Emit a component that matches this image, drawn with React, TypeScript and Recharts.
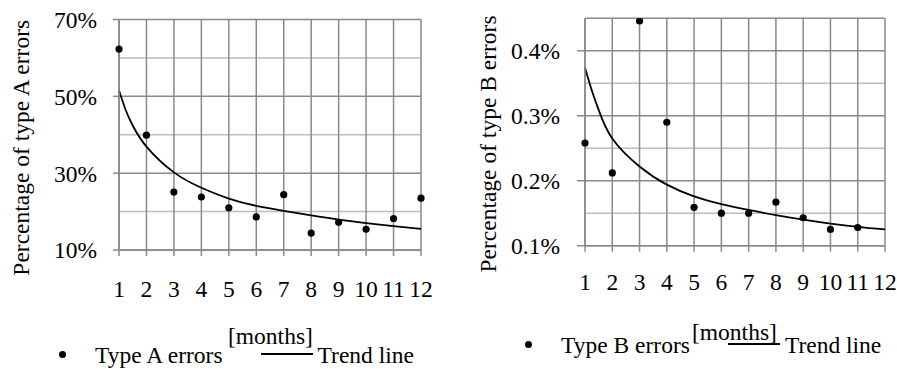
import React from 'react';
import { ComposedChart, Line, Scatter, XAxis, YAxis, CartesianGrid, Legend } from 'recharts';

const months = [1, 2, 3, 4, 5, 6, 7, 8, 9, 10, 11, 12];

// percentage of type A errors per month
const typeAErrors = [62.3, 39.9, 25.1, 23.8, 21.0, 18.6, 24.4, 14.4, 17.2, 15.4, 18.2, 23.5];
// trend curve (extra readings near 1 where it bends hard)
const trendMonths = [1, 1.25, 1.5, 2, 3, 4, 5, 6, 7, 8, 9, 10, 11, 12];
const typeATrend = [51.5, 46.3, 42.4, 36.9, 30.2, 26.2, 23.4, 21.5, 20.2, 19.0, 17.9, 17.0, 16.2, 15.5];

// type B: no point for month 12, the trend still runs to 12
const typeBErrors = [0.258, 0.212, 0.446, 0.29, 0.159, 0.15, 0.15, 0.167, 0.143, 0.125, 0.128];
const typeBTrend = [0.374, 0.339, 0.309, 0.265, 0.222, 0.194, 0.176, 0.164, 0.155, 0.147, 0.14, 0.134, 0.129, 0.125];

const ticksA = [10, 30, 50, 70];
const minorA = [20, 40, 60];
const ticksB = [0.1, 0.2, 0.3, 0.4];
const minorB = [0.15, 0.25, 0.35];

const font = '"Liberation Serif", serif';
const fs = 23.5;
const gridDark = '#898989';
const gridLight = '#bdbdbd';

const trendA = trendMonths.map((m, i) => ({ month: m, trend: typeATrend[i] }));
const pointsA = months.map((m, i) => ({ month: m, value: typeAErrors[i] }));
const trendB = trendMonths.map((m, i) => ({ month: m, trend: typeBTrend[i] }));
const pointsB = typeBErrors.map((v, i) => ({ month: months[i], value: v }));

const Dot = (props: any) => <circle cx={props.cx} cy={props.cy} r={3.6} fill="#000" />;

const YTitle = ({ viewBox, text, dx, dy }: any) => {
  const cx = viewBox.x + dx;
  const cy = viewBox.y + viewBox.height / 2 + dy;
  return (
    <text x={cx} y={cy} transform={`rotate(-90 ${cx} ${cy})`} textAnchor="middle"
      style={{ fontFamily: font }} fontSize={fs} fill="#000">{text}</text>
  );
};

const XTitle = ({ viewBox, dx, dy }: any) => (
  <text x={viewBox.x + dx} y={viewBox.y + dy} style={{ fontFamily: font }} fontSize={fs} fill="#000">[months]</text>
);

const LegendRow = ({ name }: { name: string }) => (
  <div style={{ display: 'flex', alignItems: 'center', fontFamily: font, fontSize: fs, lineHeight: '24px', color: '#000', whiteSpace: 'nowrap' }}>
    <span style={{ display: 'inline-block', width: 7, height: 7, borderRadius: '50%', background: '#000', position: 'relative', top: -1 }} />
    <span style={{ marginLeft: 29.5 }}>{name}</span>
    <span style={{ display: 'inline-block', width: 52, height: 2, background: '#000', marginLeft: 38, position: 'relative', top: -1 }} />
    <span style={{ marginLeft: 5 }}>Trend line</span>
  </div>
);

const tickStyle = { fill: '#000', fontSize: fs, style: { fontFamily: font } };

export default function App() {
  return (
    <div style={{ position: 'relative', width: 897, height: 369, background: '#fff', fontFamily: font }}>
      <style>{'body{margin:0} .recharts-text{font-family:"Liberation Serif",serif}'}</style>

      <div style={{ position: 'absolute', left: 0, top: 0 }}>
        <ComposedChart width={448} height={369} data={trendA} margin={{ top: 19.5, right: 27, left: 0, bottom: 0 }}>
          <CartesianGrid horizontalValues={minorA} vertical={false} stroke={gridLight} strokeWidth={1.5} />
          <CartesianGrid stroke={gridDark} strokeWidth={1.5} />
          <XAxis dataKey="month" type="number" domain={[1, 12]} ticks={months} interval={0} height={119}
            tick={tickStyle} tickSize={6} tickMargin={24}
            axisLine={{ stroke: gridDark, strokeWidth: 1.5 }} tickLine={{ stroke: gridDark, strokeWidth: 1.5 }}
            label={<XTitle dx={109} dy={94} />} />
          <YAxis type="number" domain={[10, 70]} ticks={ticksA} width={119} allowDataOverflow
            tick={tickStyle} tickSize={6} tickMargin={16} tickFormatter={(v: number) => `${v}%`}
            axisLine={{ stroke: gridDark, strokeWidth: 1.5 }} tickLine={{ stroke: gridDark, strokeWidth: 1.5 }}
            label={<YTitle text="Percentage of type A errors" dx={29} dy={13} />} />
          <Scatter name="Type A errors" data={pointsA} dataKey="value" shape={Dot} isAnimationActive={false} />
          <Line name="Trend line" dataKey="trend" type="natural" stroke="#000" strokeWidth={1.8} dot={false} isAnimationActive={false} />
          <Legend layout="horizontal" align="center" verticalAlign="middle"
            wrapperStyle={{ left: 58.5, top: 343, width: 380 }}
            content={() => <LegendRow name="Type A errors" />} />
        </ComposedChart>
      </div>

      <div style={{ position: 'absolute', left: 448, top: 0 }}>
        <ComposedChart width={449} height={369} data={trendB} margin={{ top: 18.3, right: 12, left: 0, bottom: 0 }}>
          <CartesianGrid horizontalValues={minorB} vertical={false} stroke={gridLight} strokeWidth={1.5} />
          <CartesianGrid horizontalValues={[...ticksB, 0.45]} stroke={gridDark} strokeWidth={1.5} />
          <XAxis dataKey="month" type="number" domain={[1, 12]} ticks={months} interval={0} height={123.3}
            tick={tickStyle} tickSize={6} tickMargin={22}
            axisLine={{ stroke: gridDark, strokeWidth: 1.5 }} tickLine={{ stroke: gridDark, strokeWidth: 1.5 }}
            label={<XTitle dx={107} dy={94} />} />
          <YAxis type="number" domain={[0.1, 0.45]} ticks={ticksB} width={137} allowDataOverflow
            tick={tickStyle} tickSize={8} tickMargin={17} tickFormatter={(v: number) => `${v}%`}
            axisLine={{ stroke: gridDark, strokeWidth: 1.5 }} tickLine={{ stroke: gridDark, strokeWidth: 1.5 }}
            label={<YTitle text="Percentage of type B errors" dx={48} dy={12} />} />
          <Scatter name="Type B errors" data={pointsB} dataKey="value" shape={Dot} isAnimationActive={false} />
          <Line name="Trend line" dataKey="trend" type="natural" stroke="#000" strokeWidth={1.8} dot={false} isAnimationActive={false} />
          <Legend layout="horizontal" align="center" verticalAlign="middle"
            wrapperStyle={{ left: 76.5, top: 333, width: 380 }}
            content={() => <LegendRow name="Type B errors" />} />
        </ComposedChart>
      </div>
    </div>
  );
}
